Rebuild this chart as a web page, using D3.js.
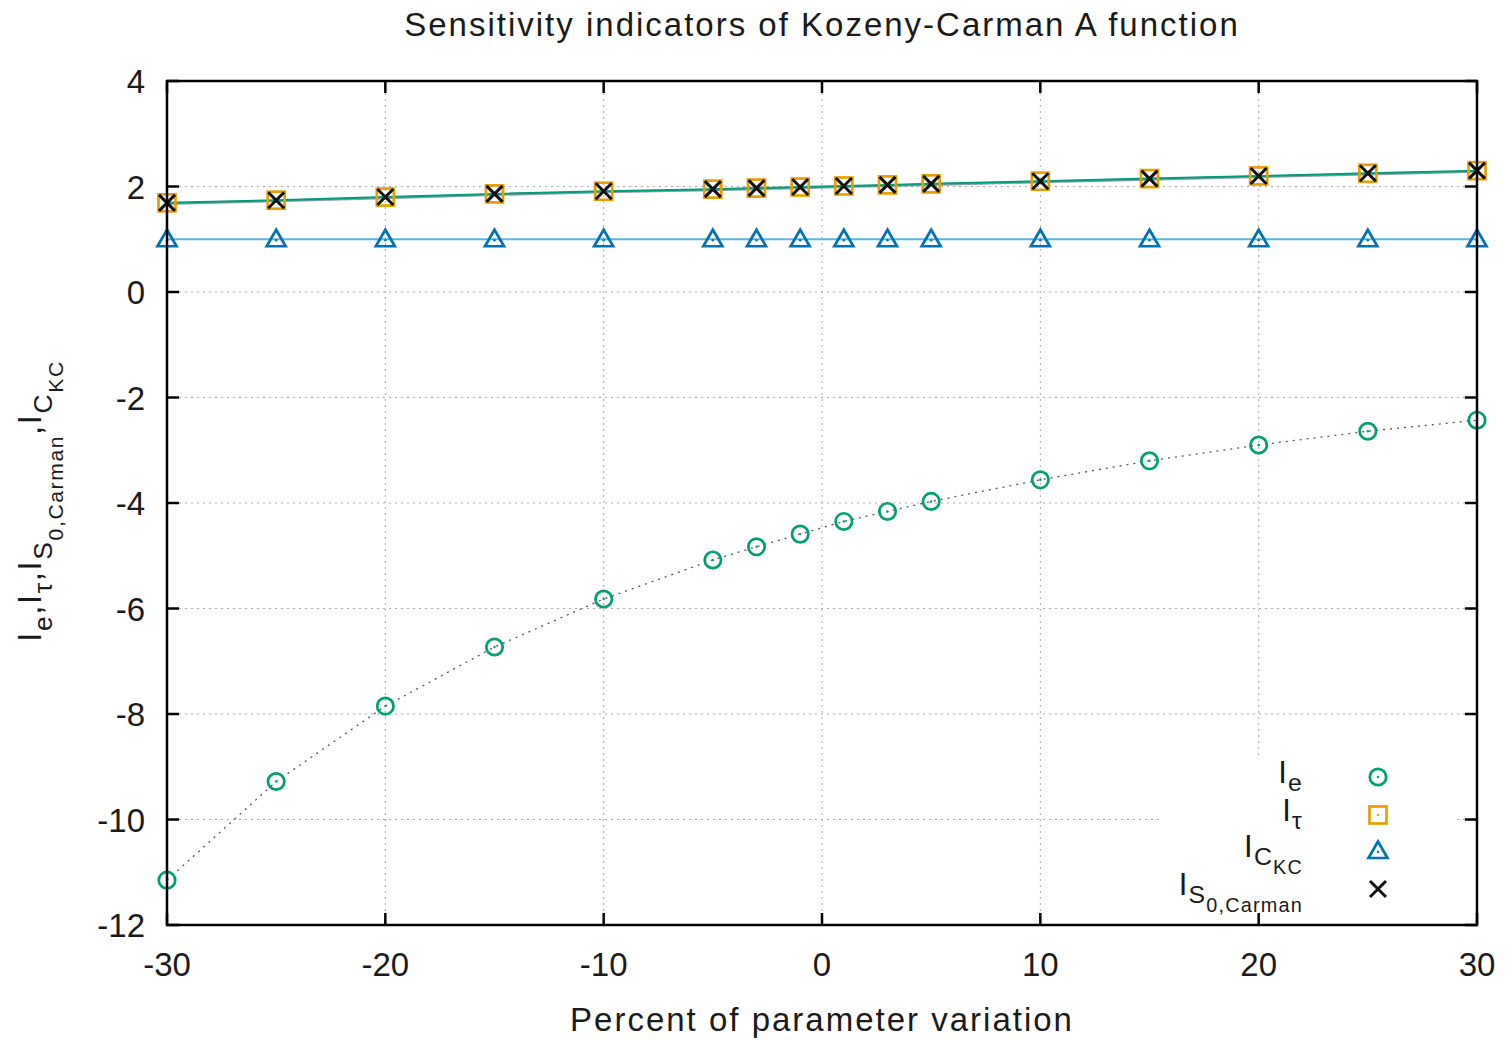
<!DOCTYPE html>
<html><head><meta charset="utf-8">
<script src="https://cdn.jsdelivr.net/npm/d3@7"></script>
<style>html,body{margin:0;padding:0;background:#fff;} text{font-family:"Liberation Sans",Arial,sans-serif;fill:#1a1a1a;}</style>
</head><body>
<svg id="c" width="1510" height="1040"></svg>
<script>
const xValues = [-30,-25,-20,-15,-10,-5,-3,-1,1,3,5,10,15,20,25,30];
const Ie   = [-11.15,-9.28,-7.85,-6.73,-5.82,-5.08,-4.83,-4.59,-4.35,-4.16,-3.97,-3.56,-3.20,-2.90,-2.64,-2.43];
const Itau = [1.69,1.74,1.80,1.86,1.91,1.95,1.97,1.99,2.01,2.03,2.05,2.10,2.15,2.20,2.25,2.30];
const ICKC = [1,1,1,1,1,1,1,1,1,1,1,1,1,1,1,1];
const IS0  = [1.69,1.74,1.80,1.86,1.91,1.95,1.97,1.99,2.01,2.03,2.05,2.10,2.15,2.20,2.25,2.30];
const xTicks = [-30,-20,-10,0,10,20,30];
const yTicks = [4,2,0,-2,-4,-6,-8,-10,-12];
const titleText = "Sensitivity indicators of Kozeny-Carman A function";
const xLabel = "Percent of parameter variation";

const svg = d3.select("#c");
const L=167, R=1477, T=81, B=925;
const x = d3.scaleLinear().domain([-30,30]).range([L,R]);
const y = d3.scaleLinear().domain([-12,4]).range([B,T]);

// grid
const g = svg.append("g");
g.selectAll(".vg").data(xTicks.filter(d=>d>-30&&d<30)).join("line")
  .attr("x1",d=>x(d)).attr("x2",d=>x(d)).attr("y1",T).attr("y2",B)
  .attr("stroke","#a8a8a8").attr("stroke-width",1).attr("stroke-dasharray","2,4");
g.selectAll(".hg").data(yTicks.filter(d=>d>-12&&d<4)).join("line")
  .attr("x1",L).attr("x2",R).attr("y1",d=>y(d)).attr("y2",d=>y(d))
  .attr("stroke","#a8a8a8").attr("stroke-width",1).attr("stroke-dasharray","2,4");

// lines
const mk = arr => d3.line().x((d,i)=>x(xValues[i])).y(d=>y(d))(arr);
svg.append("path").attr("d",mk(Ie)).attr("fill","none").attr("stroke","#555").attr("stroke-width",1.3).attr("stroke-dasharray","2,5");
svg.append("path").attr("d",mk(ICKC)).attr("fill","none").attr("stroke","#56b4e9").attr("stroke-width",2);
svg.append("path").attr("d",mk(IS0)).attr("fill","none").attr("stroke","#55709a").attr("stroke-width",2.6).attr("opacity",0.7).attr("transform","translate(0,0.8)");
svg.append("path").attr("d",mk(Itau)).attr("fill","none").attr("stroke","#009e73").attr("stroke-width",2);

// markers
function circle(sel,cx,cy){
  sel.append("circle").attr("cx",cx).attr("cy",cy).attr("r",8.2).attr("fill","none").attr("stroke","#009e73").attr("stroke-width",2.7);
  sel.append("circle").attr("cx",cx).attr("cy",cy).attr("r",1.2).attr("fill","#009e73");
}
function square(sel,cx,cy){
  sel.append("rect").attr("x",cx-8.5).attr("y",cy-8.5).attr("width",17).attr("height",17).attr("fill","none").attr("stroke","#e69f00").attr("stroke-width",2.7);
  sel.append("circle").attr("cx",cx).attr("cy",cy).attr("r",1.2).attr("fill","#e69f00");
}
function tri(sel,cx,cy){
  sel.append("path").attr("d",`M${cx},${cy-9.5}L${cx+9.5},${cy+7}L${cx-9.5},${cy+7}Z`).attr("fill","none").attr("stroke","#0072b2").attr("stroke-width",2.7).attr("stroke-linejoin","miter");
  sel.append("circle").attr("cx",cx).attr("cy",cy+1).attr("r",1.2).attr("fill","#0072b2");
}
function cross(sel,cx,cy){
  sel.append("path").attr("d",`M${cx-8},${cy-8}L${cx+8},${cy+8}M${cx+8},${cy-8}L${cx-8},${cy+8}`).attr("stroke","#111").attr("stroke-width",3);
}
const m = svg.append("g");
xValues.forEach((xv,i)=>circle(m,x(xv),y(Ie[i])));
xValues.forEach((xv,i)=>square(m,x(xv),y(Itau[i])));
xValues.forEach((xv,i)=>tri(m,x(xv),y(ICKC[i])));
xValues.forEach((xv,i)=>cross(m,x(xv),y(IS0[i])));

// legend box
const lg = svg.append("g");
lg.append("rect").attr("x",1163).attr("y",756).attr("width",292).attr("height",B-756).attr("fill","#fff");
function richText(sel, parts, size, ls, shift){
  const t = sel.append("text").attr("font-size",size).attr("letter-spacing",ls||0);
  const sh = shift||0.33;
  let cur = 0;
  parts.forEach(p=>{
    const lvl = p.l||0;
    const dy = (lvl-cur)*size*sh;
    const fs = lvl===0?size:(lvl===1?size*0.8:size*0.64);
    t.append("tspan").attr("dy",dy).attr("font-size",fs).text(p.t);
    cur = lvl;
  });
  return t;
}
const legendItems = [
  {parts:[{t:"I"},{t:"e",l:1}], fn:circle, yy:777},
  {parts:[{t:"I"},{t:"τ",l:1}], fn:square, yy:815},
  {parts:[{t:"I"},{t:"C",l:1},{t:"KC",l:2}], fn:tri, yy:851},
  {parts:[{t:"I"},{t:"S",l:1},{t:"0,Carman",l:2}], fn:cross, yy:889},
];
legendItems.forEach(it=>{
  richText(lg,it.parts,31,1.2,0.27).attr("x",1303).attr("y",it.yy+6).attr("text-anchor","end");
  it.fn(lg,1378,it.yy);
});

// frame + ticks
const ax = svg.append("g").attr("stroke","#000").attr("stroke-width",2.5);
ax.append("rect").attr("x",L).attr("y",T).attr("width",R-L).attr("height",B-T).attr("fill","none");
xTicks.forEach(d=>{
  ax.append("line").attr("x1",x(d)).attr("x2",x(d)).attr("y1",B).attr("y2",B-12);
  ax.append("line").attr("x1",x(d)).attr("x2",x(d)).attr("y1",T).attr("y2",T+12);
});
yTicks.forEach(d=>{
  ax.append("line").attr("x1",L).attr("x2",L+12).attr("y1",y(d)).attr("y2",y(d));
  ax.append("line").attr("x1",R).attr("x2",R-12).attr("y1",y(d)).attr("y2",y(d));
});

// tick labels
svg.selectAll(".xt").data(xTicks).join("text").attr("x",d=>x(d)).attr("y",976).attr("text-anchor","middle").attr("font-size",33).text(d=>d);
svg.selectAll(".yt").data(yTicks).join("text").attr("x",145).attr("y",d=>y(d)+12).attr("text-anchor","end").attr("font-size",33).text(d=>d);

// titles
svg.append("text").attr("x",822).attr("y",36).attr("text-anchor","middle").attr("font-size",33).attr("letter-spacing",2).text(titleText);
svg.append("text").attr("x",822).attr("y",1031).attr("text-anchor","middle").attr("font-size",33).attr("letter-spacing",2).text(xLabel);
const yl = richText(svg.append("g").attr("transform","translate(41,501) rotate(-90)"),
  [{t:"I"},{t:"e",l:1},{t:",I",l:0},{t:"τ",l:1},{t:",I",l:0},{t:"S",l:1},{t:"0,Carman",l:2},{t:",I",l:0},{t:"C",l:1},{t:"KC",l:2}],33,1.6)
  .attr("text-anchor","middle");
</script>
</body></html>
